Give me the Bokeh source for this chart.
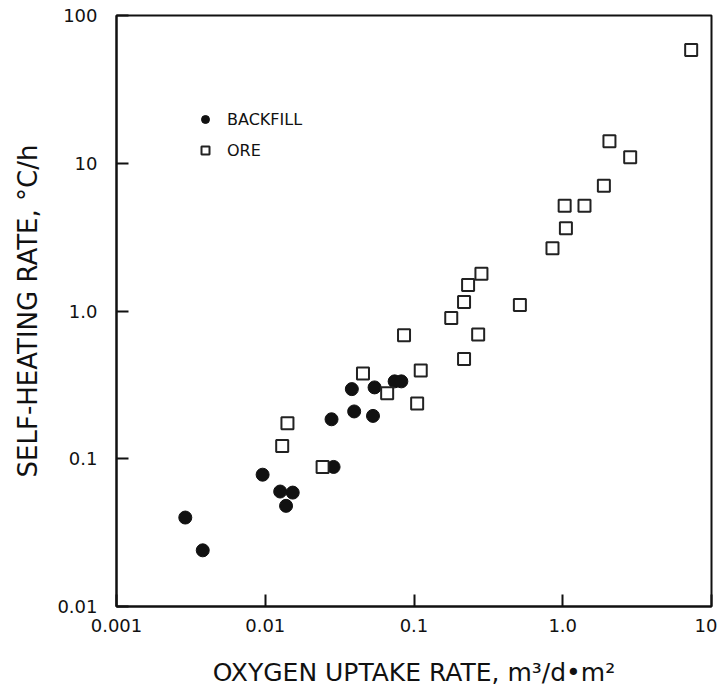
from bokeh.plotting import figure
from bokeh.models import CustomJSTickFormatter, FixedTicker, Legend, LegendItem, Range1d
from bokeh.embed import file_html
from bokeh.resources import INLINE

# Data
backfill_x = [0.0029, 0.0038, 0.0096, 0.0126, 0.0153, 0.0138, 0.0279, 0.0288,
              0.0382, 0.0396, 0.0543, 0.053, 0.0741, 0.0822]
backfill_y = [0.040, 0.024, 0.078, 0.060, 0.059, 0.048, 0.185, 0.088,
              0.296, 0.209, 0.304, 0.195, 0.334, 0.334]
ore_x = [0.0141, 0.0130, 0.0243, 0.0454, 0.066, 0.0857, 0.111, 0.105, 0.178,
         0.217, 0.270, 0.217, 0.231, 0.284, 0.515, 0.853, 1.05, 1.03, 1.40,
         1.89, 2.06, 2.84, 7.30]
ore_y = [0.174, 0.122, 0.088, 0.378, 0.278, 0.684, 0.396, 0.237, 0.895,
         0.474, 0.693, 1.15, 1.50, 1.79, 1.10, 2.66, 3.63, 5.15, 5.15,
         7.05, 14.1, 11.0, 58.5]
x_ticks = [0.001, 0.01, 0.1, 1, 10]
x_tick_labels = ["0.001", "0.01", "0.1", "1.0", "10"]
y_ticks = [0.01, 0.1, 1, 10, 100]
y_tick_labels = ["0.01", "0.1", "1.0", "10", "100"]
series_labels = ["BACKFILL", "ORE"]
x_title = "OXYGEN UPTAKE RATE, m³/d•m²"
y_title = "SELF-HEATING RATE, °C/h"

FONT = "DejaVu Sans"
INK = "#111111"

p = figure(width=717, height=696, x_axis_type="log", y_axis_type="log",
           x_range=Range1d(x_ticks[0], x_ticks[-1]),
           y_range=Range1d(y_ticks[0], y_ticks[-1]),
           output_backend="svg", toolbar_location=None,
           min_border_left=116, min_border_right=6,
           min_border_top=15, min_border_bottom=90)
p.background_fill_color = "white"
p.border_fill_color = "white"
p.outline_line_color = INK
p.outline_line_width = 2
p.xgrid.visible = False
p.ygrid.visible = False

fmt_code = """
const lt = Math.log10(tick);
for (let i = 0; i < vals.length; i++) {
  if (Math.abs(Math.log10(vals[i]) - lt) < 1e-6) return labels[i];
}
return "";
"""
p.xaxis.ticker = FixedTicker(ticks=x_ticks)
p.yaxis.ticker = FixedTicker(ticks=y_ticks)
p.xaxis.formatter = CustomJSTickFormatter(args=dict(vals=x_ticks, labels=x_tick_labels), code=fmt_code)
p.yaxis.formatter = CustomJSTickFormatter(args=dict(vals=y_ticks, labels=y_tick_labels), code=fmt_code)

for ax in (p.xaxis[0], p.yaxis[0]):
    ax.axis_line_color = INK
    ax.axis_line_width = 2
    ax.major_tick_line_color = INK
    ax.major_tick_line_width = 2
    ax.major_tick_in = 12
    ax.major_tick_out = 0
    ax.minor_tick_line_color = None
    ax.major_label_text_font = FONT
    ax.major_label_text_font_size = "18px"
    ax.major_label_text_color = INK
    ax.axis_label_text_font = FONT
    ax.axis_label_text_font_style = "normal"
    ax.axis_label_text_color = INK

p.xaxis.axis_label = x_title
p.yaxis.axis_label = y_title
p.xaxis.axis_label_text_font_size = "25px"
p.yaxis.axis_label_text_font_size = "26px"
p.xaxis.major_label_standoff = 12
p.yaxis.major_label_standoff = 19
p.xaxis.axis_label_standoff = 23
p.yaxis.axis_label_standoff = 11

r_back = p.scatter(backfill_x, backfill_y, marker="circle", size=13,
                   fill_color=INK, line_color=INK)
r_ore = p.scatter(ore_x, ore_y, marker="square", size=12,
                  fill_color="white", line_color="#222222", line_width=2)

legend = Legend(items=[LegendItem(label=series_labels[0], renderers=[r_back]),
                       LegendItem(label=series_labels[1], renderers=[r_ore])],
                location=(79, 446), border_line_color=None,
                background_fill_alpha=0, padding=0, margin=0, spacing=11,
                label_standoff=12, glyph_width=20, glyph_height=20,
                label_height=20, label_text_font=FONT,
                label_text_font_style="normal",
                label_text_font_size="16px", label_text_color=INK)
p.add_layout(legend, "center")

open("out.html", "w").write(file_html(p, INLINE))
